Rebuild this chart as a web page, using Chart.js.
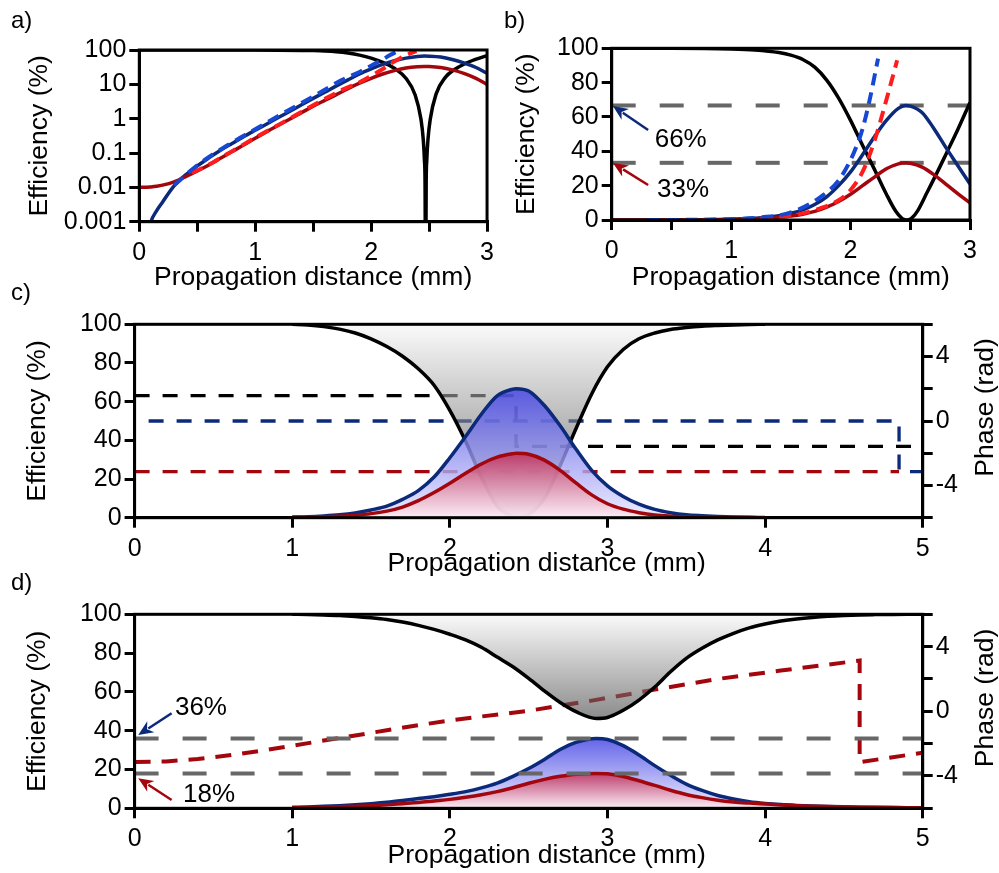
<!DOCTYPE html>
<html>
<head>
<meta charset="utf-8">
<title>Efficiency vs propagation distance</title>
<script src="https://cdn.jsdelivr.net/npm/chart.js@4.4.1/dist/chart.umd.min.js"></script>
<style>
	html, body { margin: 0; padding: 0; background: #fff; }
	body { width: 999px; height: 873px; position: relative; overflow: hidden; font-family: "Liberation Sans", Arial, sans-serif; }
	canvas { position: absolute; }
	.panel-label { position: absolute; font-size: 24px; line-height: 24px; color: #000; }
</style>
</head>
<body>
<canvas id="chart-a" width="500" height="300" style="left:0;top:0"></canvas>
<canvas id="chart-b" width="499" height="300" style="left:500px;top:0"></canvas>
<canvas id="chart-c" width="999" height="290" style="left:0;top:300px"></canvas>
<canvas id="chart-d" width="999" height="283" style="left:0;top:590px"></canvas>
<div class="panel-label" style="left:11px;top:8px">a)</div>
<div class="panel-label" style="left:504px;top:8px">b)</div>
<div class="panel-label" style="left:11px;top:280px">c)</div>
<div class="panel-label" style="left:11px;top:570px">d)</div>

<script>

	// Data -------------------------------------------------------------------------/

	// a) and b): same curves, log and linear scale
	const abBlackX = [0, 0.5, 1.0, 1.2, 1.4, 1.5, 1.6, 1.7, 1.8, 1.9, 2.0, 2.1, 2.2, 2.3, 2.38, 2.43, 2.45, 2.46, 2.465, 2.47, 2.475, 2.48, 2.49, 2.51, 2.56, 2.64, 2.72, 2.8, 2.9, 3.0];
	const abBlack  = [100, 99.99, 99.6, 99.0, 97.5, 96, 93.5, 89, 81.5, 71, 58, 43.5, 29.5, 15, 4.9, 0.96, 0.24, 0.06, 0.015, 0.00001, 0.015, 0.06, 0.24, 0.96, 5.2, 16, 27, 38.5, 53, 68.5];

	const abX    = [0, 0.05, 0.1, 0.15, 0.2, 0.3, 0.4, 0.5, 0.6, 0.7, 0.8, 0.9, 1.0, 1.1, 1.2, 1.3, 1.4, 1.5, 1.6, 1.7, 1.8, 1.9, 2.0, 2.1, 2.2, 2.3, 2.4, 2.46, 2.5, 2.6, 2.7, 2.8, 2.9, 3.0];
	const abBlue = [0.000001, 0.0002, 0.001, 0.0021, 0.0037, 0.011, 0.023, 0.042, 0.072, 0.12, 0.19, 0.3, 0.46, 0.7, 1.08, 1.65, 2.55, 3.9, 5.9, 9.0, 13.5, 20, 28, 38, 48.5, 58, 65, 66.7, 66.3, 62.5, 53, 42, 31.5, 21];
	const abRed  = [0.01, 0.01, 0.0103, 0.0108, 0.0116, 0.0145, 0.0205, 0.03, 0.045, 0.07, 0.11, 0.17, 0.27, 0.42, 0.64, 0.98, 1.5, 2.3, 3.4, 5.0, 7.5, 10.8, 15, 20, 25, 29.8, 32.7, 33.3, 33.1, 30.8, 26.3, 20.8, 15.2, 10];

	const abBlueDashX = [0.3, 0.5, 0.75, 1.0, 1.25, 1.5, 1.75, 1.9, 2.0, 2.05, 2.1, 2.16, 2.23];
	const abBlueDash  = [0.0115, 0.044, 0.16, 0.49, 1.5, 4.4, 13.5, 23, 35, 43, 53, 70, 94];
	const abRedDashX  = [0.45, 0.5, 0.75, 1.0, 1.25, 1.5, 1.75, 1.9, 2.0, 2.1, 2.2, 2.3, 2.39];
	const abRedDash   = [0.027, 0.031, 0.09, 0.28, 0.82, 2.45, 6.9, 11.5, 17.5, 28, 46, 70, 93];

	const bLevels  = [66.7, 33.3];
	const logTicks = [0.001, 0.01, 0.1, 1, 10, 100];

	// c)
	const cX     = [1.0, 1.1, 1.2, 1.3, 1.4, 1.5, 1.6, 1.7, 1.8, 1.9, 2.0, 2.1, 2.2, 2.3, 2.4, 2.42, 2.5, 2.6, 2.7, 2.8, 2.9, 3.0, 3.1, 3.2, 3.3, 3.4, 3.5, 3.6, 3.7, 3.8, 3.9, 4.0];
	const cBlack = [100, 99.6, 98.8, 97.5, 95.5, 92.5, 88.5, 83.5, 77, 68.5, 55.5, 39.5, 21, 6, 0.5, 0, 1.5, 10, 27, 46, 64, 78, 87, 92.5, 95.5, 97.3, 98.3, 99, 99.4, 99.7, 99.9, 100];
	const cBlue  = [0.3, 0.5, 0.9, 1.5, 2.5, 4.0, 6.0, 9.5, 14, 21, 31, 42, 53.5, 63, 66.5, 66.7, 65.5, 58, 47.5, 35.5, 24.5, 16.5, 11, 7, 4.3, 2.6, 1.5, 1.0, 0.65, 0.4, 0.2, 0.1];
	const cRed   = [0.15, 0.25, 0.45, 0.8, 1.3, 2.1, 3.4, 5.5, 8.8, 13, 17.8, 23, 27.8, 31.3, 33.1, 33.3, 32.8, 29.8, 24.5, 18, 11.8, 7.2, 4.4, 2.6, 1.4, 0.8, 0.45, 0.25, 0.15, 0.08, 0.04, 0];

	const cPhaseBlackX = [0, 2.42, 2.42, 5];
	const cPhaseBlack  = [1.57, 1.57, -1.57, -1.57];
	const cPhaseBlueX  = [0, 4.85, 4.85, 5];
	const cPhaseBlue   = [0, 0, -3.14, -3.14];
	const cPhaseRedX   = [0, 4.85];
	const cPhaseRed    = [-3.14, -3.14];

	// d)
	const dX     = [1.0, 1.1, 1.2, 1.3, 1.4, 1.5, 1.6, 1.7, 1.8, 1.9, 2.0, 2.1, 2.2, 2.3, 2.4, 2.5, 2.6, 2.7, 2.8, 2.93, 3.0, 3.1, 3.2, 3.3, 3.4, 3.5, 3.6, 3.7, 3.8, 3.9, 4.0, 4.1, 4.2, 4.3, 4.4, 4.5, 4.6, 4.7, 4.8, 4.9, 5.0];
	const dBlack = [100, 99.9, 99.7, 99.4, 98.9, 98.2, 97.3, 96, 94.3, 92.2, 89.7, 86.8, 83, 78, 73, 67, 60.5, 54.5, 49.8, 46.3, 46.8, 50.5, 55.8, 62.5, 70.4, 77.3, 82.5, 86.8, 90.2, 93, 95, 96.5, 97.6, 98.4, 99, 99.4, 99.7, 99.85, 99.95, 100, 100];
	const dBlue  = [0.5, 0.7, 1.0, 1.35, 1.8, 2.4, 3.1, 4.0, 5.0, 6.0, 7.2, 8.6, 10.5, 13, 16.5, 20.5, 25.2, 30.3, 34, 36, 35.5, 32.3, 27.5, 22, 17, 12.5, 9.2, 6.6, 4.8, 3.4, 2.5, 1.9, 1.5, 1.2, 0.95, 0.75, 0.6, 0.48, 0.38, 0.3, 0.22];
	const dRed   = [0.3, 0.42, 0.55, 0.75, 1.0, 1.35, 1.8, 2.4, 3.0, 3.8, 4.6, 5.7, 7.0, 8.6, 10.6, 12.9, 14.9, 16.5, 17.6, 18, 17.8, 16.4, 14.2, 11.8, 9.3, 7.1, 5.5, 4.2, 3.3, 2.7, 2.2, 1.7, 1.35, 1.1, 0.9, 0.72, 0.58, 0.46, 0.37, 0.3, 0.25];

	const dPhaseX   = [0, 0.2, 0.4, 0.6, 0.8, 1.0, 1.2, 1.4, 1.6, 1.8, 2.0, 2.2, 2.5, 2.9, 3.3, 3.7, 4.1, 4.6, 4.6, 4.8, 5.0];
	const dPhaseRed = [-3.14, -3.1, -2.95, -2.72, -2.45, -2.13, -1.81, -1.5, -1.17, -0.86, -0.57, -0.32, 0.03, 0.66, 1.34, 2.0, 2.52, 3.14, -3.14, -2.86, -2.56];

	const dLevels = [36, 18];


	// Styles -----------------------------------------------------------------------/

	const FONT = "'Liberation Sans', Arial, sans-serif";
	const NAVY = '#0c2a7a';
	const DARK_RED = '#a3070d';
	const BRIGHT_BLUE = '#1748d4';
	const BRIGHT_RED = '#ff1c1c';
	const REF_GRAY = '#676767';
	const TICK_SIZE = 25;
	const TITLE_SIZE = 26.5;
	const LINE_W = 3.5;
	const X_TITLE = 'Propagation distance (mm)';

	Chart.defaults.font.family = FONT;
	Chart.defaults.color = '#000';


	// Helpers ----------------------------------------------------------------------/

	function points( xs, ys ) {
		return xs.map( ( x, i ) => ( { x: x, y: ys[i] } ) );
	}

	function levelLine( level, xMax ) {
		return [ { x: 0, y: level }, { x: xMax, y: level } ];
	}

	/**
	 * Vertical gradient whose stops are given in values of the y scale.
	 *
	 * @param {Array} stops   [[value, color], ...] from top to bottom
	 */
	function valueGradient( stops ) {
		return function( context ) {
			const chart = context.chart;
			if ( ! chart.chartArea ) {
				return 'rgba(0,0,0,0)';
			}
			const y = chart.scales.y;
			const y0 = y.getPixelForValue( stops[0][0] );
			const y1 = y.getPixelForValue( stops[stops.length - 1][0] );
			const g = chart.ctx.createLinearGradient( 0, y0, 0, y1 );
			stops.forEach( function( s ) {
				g.addColorStop( Math.min( 1, Math.max( 0, ( y.getPixelForValue( s[0] ) - y0 ) / ( y1 - y0 ) ) ), s[1] );
			} );
			return g;
		};
	}

	function axisLook() {
		return {
			border: { display: true, color: '#000', width: 3 },
			grid: { display: true, drawOnChartArea: false, drawTicks: true, tickLength: 10, lineWidth: 3, color: '#000' },
		};
	}

	// titlePad === null: the title is drawn by the decor plugin instead
	function xScale( max, step, height, titlePad ) {
		return Object.assign( axisLook(), {
			type: 'linear', min: 0, max: max,
			ticks: {
				stepSize: step, autoSkip: false, maxRotation: 0, padding: 6, font: { size: TICK_SIZE },
				callback: v => ( Math.abs( v - Math.round( v ) ) < 1e-9 ? Math.round( v ) : '' )
			},
			title: { display: titlePad !== null, text: X_TITLE, font: { size: TITLE_SIZE }, padding: { top: 0, bottom: titlePad || 0 } },
			afterFit: s => { s.height = height; }
		} );
	}

	function yScale( width, titlePad, extra ) {
		return Object.assign( axisLook(), {
			type: 'linear', min: 0, max: 100, position: 'left',
			ticks: { stepSize: 20, autoSkip: false, padding: 3, font: { size: TICK_SIZE } },
			title: { display: true, text: 'Efficiency (%)', font: { size: TITLE_SIZE }, padding: { top: titlePad, bottom: 0 } },
			afterFit: s => { s.width = width; }
		}, extra || {} );
	}

	function phaseScale( width ) {
		return Object.assign( axisLook(), {
			type: 'linear', min: -6, max: 6, position: 'right',
			ticks: {
				stepSize: 2, autoSkip: false, padding: 3, font: { size: TICK_SIZE },
				callback: v => ( v === 4 || v === 0 || v === -4 ? v : '' )
			},
			afterFit: s => { s.width = width; }
		} );
	}

	function solid( data, color, order, extra ) {
		return Object.assign( {
			data: data, borderColor: color, borderWidth: LINE_W, pointRadius: 0,
			cubicInterpolationMode: 'monotone', fill: false, order: order
		}, extra || {} );
	}

	function dashed( data, color, width, dash, order, extra ) {
		return Object.assign( {
			data: data, borderColor: color, borderWidth: width, borderDash: dash, pointRadius: 0,
			fill: false, order: order
		}, extra || {} );
	}

	// frame, arrows with notes, right-hand and bottom titles
	const decor = {
		id: 'decor',
		afterDatasetsDraw( chart, args, opts ) {
			const ctx = chart.ctx;
			const a = chart.chartArea;
			const sx = chart.scales.x;
			const sy = chart.scales.y;
			ctx.save();

			ctx.strokeStyle = '#000';
			ctx.lineWidth = 3;
			ctx.strokeRect( a.left, a.top, a.right - a.left, a.bottom - a.top );

			( opts.notes || [] ).forEach( function( n ) {
				const x0 = sx.getPixelForValue( n.from[0] ), y0 = sy.getPixelForValue( n.from[1] );
				const x1 = sx.getPixelForValue( n.to[0] ), y1 = sy.getPixelForValue( n.to[1] );
				const ang = Math.atan2( y1 - y0, x1 - x0 );
				const len = 15, half = 6.5;
				ctx.strokeStyle = n.color;
				ctx.fillStyle = n.color;
				ctx.lineWidth = 2.5;
				ctx.beginPath();
				ctx.moveTo( x0, y0 );
				ctx.lineTo( x1 - Math.cos( ang ) * len * 0.8, y1 - Math.sin( ang ) * len * 0.8 );
				ctx.stroke();
				ctx.beginPath();
				ctx.moveTo( x1, y1 );
				ctx.lineTo( x1 - Math.cos( ang ) * len + Math.sin( ang ) * half, y1 - Math.sin( ang ) * len - Math.cos( ang ) * half );
				ctx.lineTo( x1 - Math.cos( ang ) * len * 0.7, y1 - Math.sin( ang ) * len * 0.7 );
				ctx.lineTo( x1 - Math.cos( ang ) * len - Math.sin( ang ) * half, y1 - Math.sin( ang ) * len + Math.cos( ang ) * half );
				ctx.closePath();
				ctx.fill();

				ctx.fillStyle = '#000';
				ctx.font = '26px ' + FONT;
				ctx.textAlign = 'left';
				ctx.textBaseline = 'alphabetic';
				ctx.fillText( n.text, sx.getPixelForValue( n.at[0] ), sy.getPixelForValue( n.at[1] ) );
			} );

			ctx.fillStyle = '#000';
			ctx.font = TITLE_SIZE + 'px ' + FONT;
			ctx.textBaseline = 'middle';
			ctx.textAlign = 'center';

			if ( opts.bottomTitle ) {
				const b = opts.bottomTitle;
				ctx.fillText( b.text, ( a.left + a.right ) / 2 + b.dx, a.bottom + b.dy );
			}

			if ( opts.rightTitle ) {
				const t = opts.rightTitle;
				ctx.translate( a.right + t.dx, ( a.top + a.bottom ) / 2 + t.dy );
				ctx.rotate( -Math.PI / 2 );
				ctx.fillText( t.text, 0, 0 );
			}
			ctx.restore();
		}
	};

	function baseOptions( padding, scales, decorOpts ) {
		return {
			responsive: false, animation: false, devicePixelRatio: 1,
			layout: { padding: padding },
			plugins: { legend: { display: false }, tooltip: { enabled: false }, decor: decorOpts || {} },
			scales: scales
		};
	}


	// Charts -----------------------------------------------------------------------/

	// a) log scale
	new Chart( document.getElementById( 'chart-a' ), {
		type: 'line',
		data: {
			datasets: [
				dashed( points( abBlueDashX, abBlueDash ), BRIGHT_BLUE, 4, [12, 7], 1, { cubicInterpolationMode: 'monotone' } ),
				dashed( points( abRedDashX, abRedDash ), BRIGHT_RED, 4, [12, 7], 2, { cubicInterpolationMode: 'monotone' } ),
				solid( points( abX, abRed ), DARK_RED, 3 ),
				solid( points( abX, abBlue ), NAVY, 4 ),
				solid( points( abBlackX, abBlack ), '#000', 5 )
			]
		},
		options: baseOptions( { top: 50, right: 10.7, left: 0, bottom: 0 }, {
			x: xScale( 3, 0.5, 78.3, 6 ),
			y: yScale( 139.3, 24, {
				type: 'logarithmic', min: 0.001, max: 100,
				ticks: { autoSkip: false, padding: 3, font: { size: TICK_SIZE }, callback: v => String( v ) },
				afterBuildTicks: s => { s.ticks = logTicks.map( v => ( { value: v } ) ); }
			} )
		} ),
		plugins: [ decor ]
	} );

	// b) linear scale
	new Chart( document.getElementById( 'chart-b' ), {
		type: 'line',
		data: {
			datasets: [
				dashed( points( abBlueDashX, abBlueDash ), BRIGHT_BLUE, 4, [12, 7], 1, { cubicInterpolationMode: 'monotone' } ),
				dashed( points( abRedDashX, abRedDash ), BRIGHT_RED, 4, [12, 7], 2, { cubicInterpolationMode: 'monotone' } ),
				solid( points( abX, abRed ), DARK_RED, 3 ),
				solid( points( abX, abBlue ), NAVY, 4 ),
				solid( points( abBlackX, abBlack ), '#000', 5 ),
				dashed( levelLine( bLevels[0], 3 ), REF_GRAY, 4, [24, 24], 8 ),
				dashed( levelLine( bLevels[1], 3 ), REF_GRAY, 4, [24, 24], 9 )
			]
		},
		options: baseOptions( { top: 48.3, right: 29, left: 0, bottom: 0 }, {
			x: xScale( 3, 0.5, 80, 6 ),
			y: yScale( 111.7, 11 )
		}, {
			notes: [
				{ text: '66%', at: [0.36, 42.5], from: [0.305, 52.4], to: [0.01, 66.4], color: NAVY },
				{ text: '33%', at: [0.38, 13.4], from: [0.305, 20.4], to: [0.01, 33.2], color: DARK_RED }
			]
		} ),
		plugins: [ decor ]
	} );

	// c) efficiency with phase
	new Chart( document.getElementById( 'chart-c' ), {
		type: 'line',
		data: {
			datasets: [
				solid( points( cX, cRed ), DARK_RED, 1, {
					fill: 'origin',
					backgroundColor: valueGradient( [ [33.3, 'rgba(196,38,78,0.8)'], [0, 'rgba(255,238,243,0.8)'] ] )
				} ),
				solid( points( cX, cBlue ), NAVY, 2, {
					fill: 'origin',
					backgroundColor: valueGradient( [ [66.7, 'rgba(62,62,228,0.8)'], [0, 'rgba(232,232,255,0.8)'] ] )
				} ),
				solid( points( cX, cBlack ), '#000', 3, {
					fill: 'end',
					backgroundColor: valueGradient( [ [100, 'rgba(247,247,247,0.6)'], [0, 'rgba(30,30,30,0.6)'] ] )
				} ),
				dashed( points( cPhaseRedX, cPhaseRed ), DARK_RED, 3.3, [15, 13], 6, { yAxisID: 'y2' } ),
				dashed( points( cPhaseBlueX, cPhaseBlue ), NAVY, 3.3, [15, 13], 5, { yAxisID: 'y2', borderDashOffset: 14 } ),
				dashed( points( cPhaseBlackX, cPhaseBlack ), '#000', 3.3, [15, 13], 4, { yAxisID: 'y2' } )
			]
		},
		options: baseOptions( { top: 24.3, right: 0, left: 0, bottom: 0 }, {
			x: xScale( 5, 1, 72.3, null ),
			y: yScale( 134.6, 22 ),
			y2: phaseScale( 76.3 )
		}, {
			bottomTitle: { text: X_TITLE, dx: 18, dy: 46.3 },
			rightTitle: { text: 'Phase (rad)', dx: 62.5, dy: -13.5 }
		} ),
		plugins: [ decor ]
	} );

	// d) efficiency with phase
	new Chart( document.getElementById( 'chart-d' ), {
		type: 'line',
		data: {
			datasets: [
				dashed( levelLine( dLevels[0], 5 ), REF_GRAY, 4, [24, 24], 0 ),
				dashed( levelLine( dLevels[1], 5 ), REF_GRAY, 4, [24, 24], 0 ),
				solid( points( dX, dRed ), DARK_RED, 1, {
					fill: 'origin',
					backgroundColor: valueGradient( [ [18, 'rgba(196,38,78,0.8)'], [0, 'rgba(255,238,243,0.8)'] ] )
				} ),
				solid( points( dX, dBlue ), NAVY, 2, {
					fill: 'origin',
					backgroundColor: valueGradient( [ [36, 'rgba(62,62,228,0.8)'], [0, 'rgba(232,232,255,0.8)'] ] )
				} ),
				solid( points( dX, dBlack ), '#000', 3, {
					fill: 'end',
					backgroundColor: valueGradient( [ [100, 'rgba(247,247,247,0.6)'], [46.5, 'rgba(63,63,63,0.6)'] ] )
				} ),
				dashed( points( dPhaseX, dPhaseRed ), DARK_RED, 4, [16, 11], 6, { yAxisID: 'y2' } )
			]
		},
		options: baseOptions( { top: 24.3, right: 0, left: 0, bottom: 0 }, {
			x: xScale( 5, 1, 64.7, null ),
			y: yScale( 134.6, 22 ),
			y2: phaseScale( 76.3 )
		}, {
			bottomTitle: { text: X_TITLE, dx: 18, dy: 47.2 },
			rightTitle: { text: 'Phase (rad)', dx: 62.5, dy: -13.3 },
			notes: [
				{ text: '36%', at: [0.256, 48.1], from: [0.235, 49], to: [0.023, 37.8], color: NAVY },
				{ text: '18%', at: [0.307, 3.2], from: [0.235, 4.3], to: [0.023, 15.5], color: DARK_RED }
			]
		} ),
		plugins: [ decor ]
	} );

</script>
</body>
</html>
